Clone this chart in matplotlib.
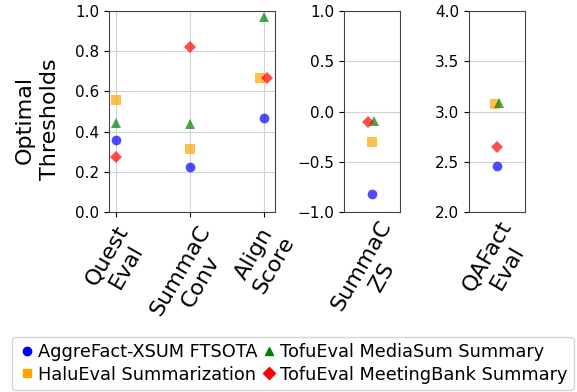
import numpy as np
import matplotlib
matplotlib.use("Agg")
import matplotlib.pyplot as plt
from matplotlib.lines import Line2D

# DATA
series = [
    "AggreFact-XSUM FTSOTA",
    "HaluEval Summarization",
    "TofuEval MediaSum Summary",
    "TofuEval MeetingBank Summary",
]
colors  = ["blue", "orange", "green", "red"]
markers = ["o", "s", "^", "D"]

# panel 1: thresholds in [0, 1]
p1_labels = ["Quest\nEval", "SummaC\nConv", "Align\nScore"]
p1_values = [
    [0.36, 0.225, 0.47],    # AggreFact
    [0.555, 0.315, 0.665],  # HaluEval
    [0.445, 0.44, 0.97],    # MediaSum
    [0.275, 0.82, 0.665],   # MeetingBank
]
p1_dodge = [
    [0.0, 0.0, 0.0],
    [0.0, 0.0, -0.045],
    [0.0, 0.0, 0.0],
    [0.0, 0.0, 0.04],
]

# panel 2: SummaC ZS
p2_labels = ["SummaC\nZS"]
p2_values = [[-0.82], [-0.30], [-0.09], [-0.10]]
p2_dodge  = [[0.0], [0.0], [0.035], [-0.05]]

# panel 3: QAFactEval
p3_labels = ["QAFact\nEval"]
p3_values = [[2.46], [3.07], [3.08], [2.65]]
p3_dodge  = [[0.0], [-0.03], [0.03], [0.0]]

fig = plt.figure(figsize=(5.77, 3.92), dpi=100)
ax1 = fig.add_axes([0.189, 0.459, 0.288, 0.513])
ax2 = fig.add_axes([0.596, 0.459, 0.097, 0.513])
ax3 = fig.add_axes([0.813, 0.459, 0.097, 0.513])


def draw_panel(ax, labels, values, dodge, ylim, yticks, vgrid):
    x = np.arange(len(labels))
    for i in range(len(series)):
        ax.plot(x + np.array(dodge[i]), values[i], linestyle="none",
                marker=markers[i], color=colors[i], alpha=0.7,
                markersize=7 if markers[i] != "D" else 6.5,
                markeredgewidth=0, zorder=3)
    ax.set_ylim(*ylim)
    ax.set_yticks(yticks)
    ax.set_xticks(x)
    ax.set_xticklabels(labels, rotation=60, ha="center", fontsize=16)
    ax.tick_params(axis="y", labelsize=11)
    ax.grid(True, axis="y", color="#d3d3d3", linewidth=0.8)
    if vgrid:
        ax.grid(True, axis="x", color="#d3d3d3", linewidth=0.8)
    else:
        ax.tick_params(axis="x", length=0)
    ax.set_axisbelow(True)
    for s in ax.spines.values():
        s.set_color("#444444")


draw_panel(ax1, p1_labels, p1_values, p1_dodge, (0, 1.0),
           [0.0, 0.2, 0.4, 0.6, 0.8, 1.0], True)
ax1.set_xlim(-0.1, 2.155)
ax1.set_ylabel("Optimal\nThresholds", fontsize=16, linespacing=1.35)
ax1.yaxis.set_label_coords(-0.295, 0.46)

draw_panel(ax2, p2_labels, p2_values, p2_dodge, (-1.0, 1.0),
           [-1.0, -0.5, 0.0, 0.5, 1.0], False)
ax2.set_xlim(-0.38, 0.38)

draw_panel(ax3, p3_labels, p3_values, p3_dodge, (2.0, 4.0),
           [2.0, 2.5, 3.0, 3.5, 4.0], False)
ax3.set_xlim(-0.38, 0.38)

handles = [Line2D([], [], linestyle="none", marker=m, color=c, markersize=6)
           for m, c in zip(markers, colors)]
fig.legend(handles, series, loc="lower left", bbox_to_anchor=(0.005, -0.017),
           ncol=2, fontsize=12.8, handletextpad=0.1, columnspacing=0.2,
           handlelength=1.0, borderpad=0.35, labelspacing=0.25)

fig.savefig("out.png", dpi=100)
